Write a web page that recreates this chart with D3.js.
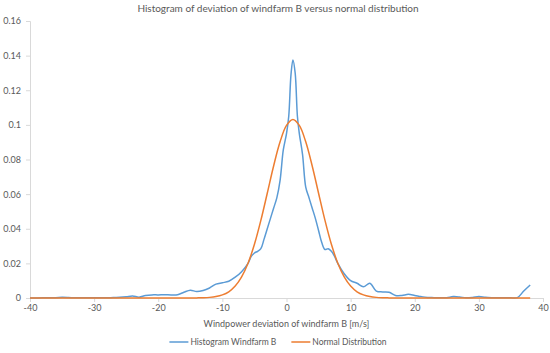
<!DOCTYPE html>
<html>
<head>
<meta charset="utf-8">
<script src="https://cdn.jsdelivr.net/npm/d3@7"></script>
<style>
  html, body { margin: 0; padding: 0; background: #fff; }
  text { font-family: Lato, "Open Sans", sans-serif; fill: #595959; }
</style>
</head>
<body>
<svg id="chart" width="550" height="353"></svg>
<script>
// ---- data ----
const title = "Histogram of deviation of windfarm B versus normal distribution";
const xTitle = "Windpower deviation of windfarm B [m/s]";
const seriesNames = ["Histogram Windfarm B", "Normal Distribution"];

const xTicks = [-40, -30, -20, -10, 0, 10, 20, 30, 40];
const xTickLabels = ["-40", "-30", "-20", "-10", "0", "10", "20", "30", "40"];
const yTicks = [0, 0.02, 0.04, 0.06, 0.08, 0.1, 0.12, 0.14, 0.16];
const yTickLabels = ["0", "0.02", "0.04", "0.06", "0.08", "0.1", "0.12", "0.14", "0.16"];

// Histogram (blue) - x positions and values
const histX = [-40, -38, -36, -35, -34, -33, -32, -30, -29, -28, -27, -26, -25, -24, -23, -22, -21, -20, -19, -18, -17, -16, -15, -14, -13, -12, -11, -10, -9, -8, -7, -6, -5.5, -5, -4.5, -4, -3.5, -3, -2.5, -2, -1.5, -1, -0.5, 0, 0.35, 0.7, 1, 1.35, 1.7, 2, 2.5, 3, 3.5, 4, 4.5, 5, 5.5, 6, 6.5, 7, 7.5, 8, 9, 10, 11, 12, 13, 14, 15, 16, 17, 18, 19, 20, 21, 22, 23, 24, 25, 26, 27, 28, 29, 30, 31, 32, 33, 34, 35, 36, 37, 38];
const histY = [0, 0.0001, 0.0002, 0.0004, 0.0003, 0.0001, 0.0001, 0.0001, 0.0002, 0.0001, 0.0003, 0.0004, 0.0007, 0.0012, 0.0005, 0.0014, 0.0018, 0.0018, 0.0019, 0.0018, 0.0019, 0.0033, 0.0045, 0.0037, 0.0043, 0.0058, 0.0080, 0.0088, 0.0097, 0.0120, 0.0152, 0.0200, 0.0240, 0.0260, 0.0270, 0.0285, 0.0340, 0.0400, 0.0460, 0.0520, 0.0580, 0.0680, 0.0855, 0.0950, 0.1050, 0.1290, 0.1375, 0.1300, 0.1050, 0.0950, 0.0830, 0.0640, 0.0580, 0.0520, 0.0460, 0.0390, 0.0320, 0.0280, 0.0285, 0.0270, 0.0240, 0.0200, 0.0140, 0.0100, 0.0085, 0.0065, 0.0085, 0.0040, 0.0035, 0.0033, 0.0015, 0.0015, 0.0021, 0.0015, 0.0008, 0.0003, 0.0002, 0.0001, 0.0002, 0.0008, 0.0006, 0.0001, 0.0003, 0.0008, 0.0004, 0.0002, 0.0001, 0.0002, 0.0001, 0.0002, 0.0040, 0.0075];

// Normal distribution (orange)
const normX = [-40, -20, -16, -15, -14, -13, -12, -11, -10, -9, -8, -7, -6, -5, -4, -3, -2, -1, 0, 1, 2, 3, 4, 5, 6, 7, 8, 9, 10, 11, 12, 13, 14, 15, 16, 17, 20, 38];
const normY = [0, 0, 0, 0, 0.00006, 0.00015, 0.00036, 0.00084, 0.0018, 0.0036, 0.0069, 0.0122, 0.0201, 0.0310, 0.0448, 0.0605, 0.0764, 0.0902, 0.0997, 0.1031, 0.0997, 0.0902, 0.0764, 0.0605, 0.0448, 0.0310, 0.0201, 0.0122, 0.0069, 0.0036, 0.0018, 0.00084, 0.00036, 0.00015, 0.00006, 0, 0, 0];

const colors = ["#5B9BD5", "#ED7D31"];

// ---- layout ----
const svg = d3.select("#chart");
const margin = { left: 30, right: 7, top: 21, bottom: 55 };
const W = 550, H = 353;

const x = d3.scaleLinear().domain([-40, 40]).range([margin.left, W - margin.right]);
const y = d3.scaleLinear().domain([0, 0.16]).range([H - margin.bottom, margin.top]);

// title
svg.append("text")
  .attr("x", 278).attr("y", 11.5)
  .attr("text-anchor", "middle")
  .style("font-size", "10px")
  .text(title);

// axes
const axisColor = "#D9D9D9";
const xAxis = d3.axisBottom(x).tickValues(xTicks).tickFormat((d, i) => xTickLabels[i]).tickSize(4).tickPadding(3);
const yAxis = d3.axisLeft(y).tickValues(yTicks).tickFormat((d, i) => yTickLabels[i]).tickSize(4).tickPadding(5);

const gx = svg.append("g").attr("transform", `translate(0,${y(0)})`).call(xAxis);
const gy = svg.append("g").attr("transform", `translate(${x(-40)},0)`).call(yAxis);
[gx, gy].forEach(g => {
  g.selectAll("path.domain").attr("stroke", axisColor);
  g.selectAll(".tick line").attr("stroke", axisColor);
  g.selectAll(".tick text").style("font-size", "9px").style("font-family", "Lato, sans-serif").attr("fill", "#595959");
});

// lines
const line = d3.line().x(d => x(d[0])).y(d => y(d[1])).curve(d3.curveCatmullRom.alpha(0.5));
const histData = histX.map((v, i) => [v, histY[i]]);
const normData = normX.map((v, i) => [v, normY[i]]);

svg.append("path").datum(histData)
  .attr("d", line).attr("fill", "none").attr("stroke", colors[0]).attr("stroke-width", 1.5);
svg.append("path").datum(normData)
  .attr("d", line).attr("fill", "none").attr("stroke", colors[1]).attr("stroke-width", 1.5);

// x title
svg.append("text")
  .attr("x", (x(-40) + x(40)) / 2).attr("y", 326.5)
  .attr("text-anchor", "middle")
  .style("font-size", "9px")
  .text(xTitle);

// legend (centered)
const lg = svg.append("g");
const lineLen = 19, gapText = 2, gapItem = 15;
let items = seriesNames.map((name, i) => {
  const g = lg.append("g");
  g.append("line").attr("x1", 0).attr("x2", lineLen)
    .attr("y1", 0).attr("y2", 0)
    .attr("stroke", colors[i]).attr("stroke-width", 1.5);
  const t = g.append("text").attr("x", lineLen + gapText).attr("y", 3)
    .style("font-size", "8.5px").text(name);
  return { g, w: lineLen + gapText + t.node().getComputedTextLength() };
});
const total = d3.sum(items, d => d.w) + gapItem * (items.length - 1);
let cx = 278 - total / 2;
items.forEach(it => {
  it.g.attr("transform", `translate(${cx},342)`);
  cx += it.w + gapItem;
});
</script>
</body>
</html>
